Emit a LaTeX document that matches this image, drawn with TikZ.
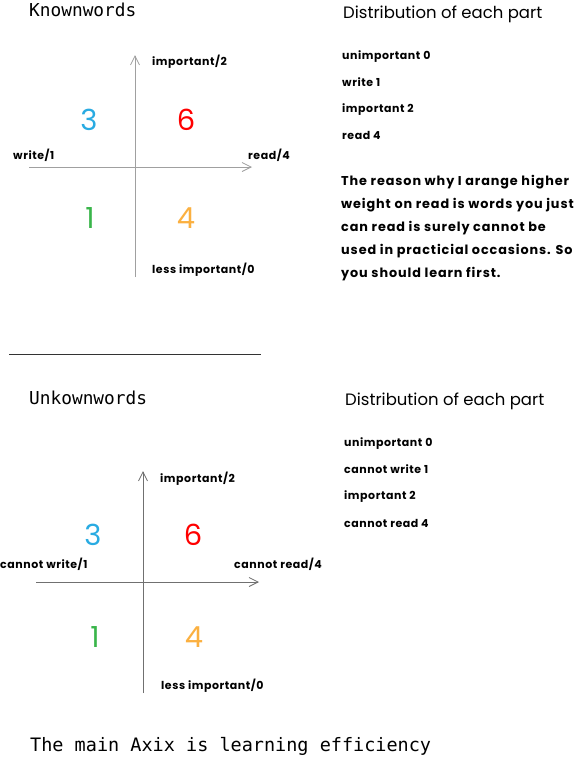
\documentclass[tikz,border=0pt]{standalone}
\usepackage{fontspec}
\setmainfont{Poppins}
\newfontfamily\monof{DejaVu Sans Mono}
\newfontfamily\lblf[LetterSpace=5]{Poppins}
\newfontfamily\paraf[LetterSpace=7]{Poppins}
\usetikzlibrary{arrows.meta}
\definecolor{cblue}{HTML}{29ABE2}
\definecolor{cred}{HTML}{FF0000}
\definecolor{cgreen}{HTML}{39B54A}
\definecolor{corange}{HTML}{FBB040}
\definecolor{axisA}{HTML}{A0A0A0}
\definecolor{axisB}{HTML}{707070}
\tikzset{
  lbl/.style={anchor=base west, inner sep=0pt, font=\fontsize{11}{13}\selectfont\lblf\bfseries},
  ttl/.style={anchor=base west, inner sep=0pt, font=\fontsize{16.5}{19}\selectfont},
  mono/.style={anchor=base west, inner sep=0pt, font=\fontsize{17.8}{20}\selectfont\monof},
  foottxt/.style={anchor=base west, inner sep=0pt, font=\fontsize{18.5}{20}\selectfont\monof},
  digit/.style={anchor=base, inner sep=0pt, font=\fontsize{29}{32}\selectfont},
  para/.style={anchor=north west, inner sep=0pt, align=left, font=\fontsize{12.8}{23}\selectfont\paraf\bfseries},
  ax/.style={line width=0.8pt, -{Straight Barb[length=9pt,width=9pt,line width=0.8pt]}}
}
\begin{document}
\begin{tikzpicture}[x=1pt,y=-1pt]
\useasboundingbox[fill=white] (0,0) rectangle (584,761);
% ---------- top ----------
\node[mono] (t1) at (29,16) {Knownwords};
\coordinate (vb1) at (135,277);
\coordinate (vt1) at (135,55);
\coordinate (hl1) at (29,167);
\coordinate (hr1) at (252,167);
\draw[ax, axisA] (vb1) -- (vt1);
\draw[ax, axisA] (hl1) -- (hr1);
\node[lbl] (imp1) at (152,65) {important/2};
\node[lbl] (wr1) at (13,159) {write/1};
\node[lbl] (rd1) at (248,159) {read/4};
\node[lbl] (li1) at (152,273) {less important/0};
\node[digit, text=cblue] (d31) at (89,130) {3};
\node[digit, text=cred] (d61) at (186,130) {6};
\node[digit, text=cgreen] (d11) at (90,228) {1};
\node[digit, text=corange] (d41) at (186,228) {4};
\node[ttl] (dist1) at (343,18.5) {Distribution of each part};
\node[lbl] (a1) at (342,59) {unimportant 0};
\node[lbl] (a2) at (342,86) {write 1};
\node[lbl] (a3) at (342,112.5) {important 2};
\node[lbl] (a4) at (342,139) {read 4};
\node[para] (p1) at (341,175) {The reason why I arange higher\\weight on read is words you just\\can read is surely cannot be\\used in practicial occasions. So\\you should learn first.};
% divider
\coordinate (dl) at (9,354);
\coordinate (dr) at (261,354);
\draw[line width=0.6pt, black!80] (dl) -- (dr);
% ---------- bottom ----------
\node[mono] (t2) at (29,404.5) {Unkownwords};
\coordinate (vb2) at (143,693);
\coordinate (vt2) at (143,471);
\coordinate (hl2) at (36,582);
\coordinate (hr2) at (259,582);
\draw[ax, axisB] (vb2) -- (vt2);
\draw[ax, axisB] (hl2) -- (hr2);
\node[lbl] (imp2) at (160,482) {important/2};
\node[lbl] (wr2) at (0,568) {cannot write/1};
\node[lbl] (rd2) at (234,568) {cannot read/4};
\node[lbl] (li2) at (161,689) {less important/0};
\node[digit, text=cblue] (d32) at (93,545) {3};
\node[digit, text=cred] (d62) at (193,545) {6};
\node[digit, text=cgreen] (d12) at (95,647) {1};
\node[digit, text=corange] (d42) at (194,647) {4};
\node[ttl] (dist2) at (345,405) {Distribution of each part};
\node[lbl] (b1) at (344,446) {unimportant 0};
\node[lbl] (b2) at (344,473) {cannot write 1};
\node[lbl] (b3) at (344,499.5) {important 2};
\node[lbl] (b4) at (344,527) {cannot read 4};
\node[foottxt] (foot) at (30,751) {The main Axix is learning efficiency};
\end{tikzpicture}
\end{document}
